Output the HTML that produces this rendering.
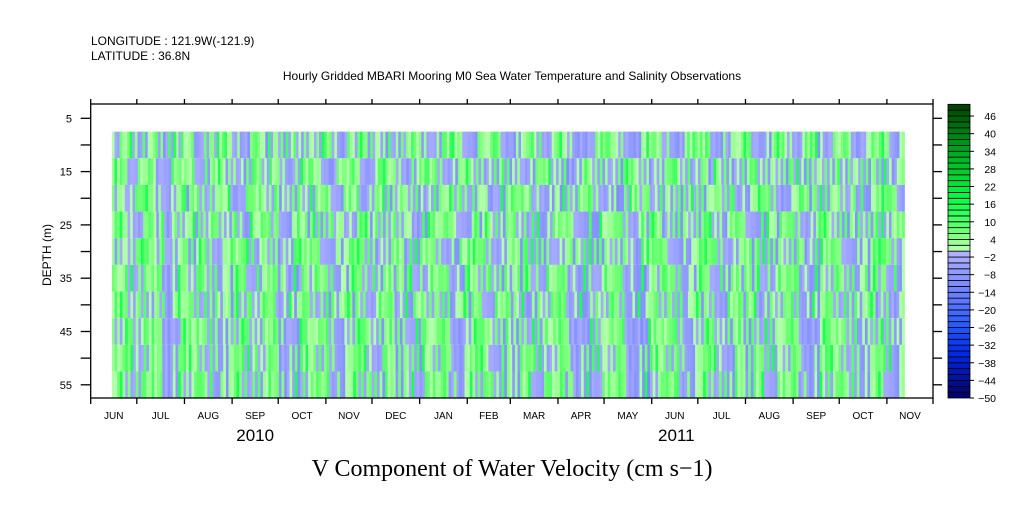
<!DOCTYPE html>
<html><head><meta charset="utf-8">
<style>
html,body{margin:0;padding:0;background:#fff;}
body{width:1009px;height:504px;overflow:hidden;font-family:"Liberation Sans",sans-serif;}
svg text{font-family:"Liberation Sans",sans-serif;fill:#000;}
</style></head>
<body>
<svg id="chart" width="1009" height="504" viewBox="0 0 1009 504" xmlns="http://www.w3.org/2000/svg">
<text x="91" y="45" font-size="12">LONGITUDE : 121.9W(-121.9)</text>
<text x="91" y="60" font-size="12">LATITUDE : 36.8N</text>
<text x="512" y="80" font-size="12" text-anchor="middle">Hourly Gridded MBARI Mooring M0 Sea Water Temperature and Salinity Observations</text>
<text transform="translate(51,255) rotate(-90)" font-size="12" text-anchor="middle">DEPTH (m)</text>
<text x="512" y="476" font-size="24" text-anchor="middle" style="font-family:'Liberation Serif',serif">V Component of Water Velocity (cm s−1)</text>
<g id="heat"></g>
<g id="axes"></g>
<g id="cbar"></g>
</svg>
<script>
// ---- data ----
const depths = [10,15,20,25,30,35,40,45,50,55];
const startDay = 13.8;   // days since 2010-06-01
const endDay = 529.5;
const monthLabels = ["JUN","JUL","AUG","SEP","OCT","NOV","DEC","JAN","FEB","MAR","APR","MAY","JUN","JUL","AUG","SEP","OCT","NOV"];
const monthStartDays = [0,30,61,92,122,153,183,214,245,273,304,334,365,395,426,457,487,518,548];
const yearLabels = ["2010","2011"];
const yearLabelDays = [107,381];
const depthTicks = [5,10,15,20,25,30,35,40,45,50,55];
const depthLabels = [5,15,25,35,45,55];
const cbarLabels = [46,40,34,28,22,16,10,4,-2,-8,-14,-20,-26,-32,-38,-44,-50];
const levelMin = -50, levelMax = 50, levelStep = 2;
// coded values: a=-17, b=-15, ... (step 2)
const rowCodesA = [
"jgkmhfnjlgeoqhjkfgmlhjpkgfhlnjegkmojhfgjlqkhgenjmlfhjkogfhjmlkhgfnpjkhgeljmnhfgkjlohgfjmkhgefhgjlnkhgfeejkmlhgfhkjmnogfehkjlmghfjkqnhgfjkleghmjnkhfgjlnkhgfejk",
"kjlghmknjhgfkmljhgnkjlfhgjmokhgjlkfhgmnjkgehjlmkhfgjnlkhgemjkolhgfjlkmhgfjnkgeghfjmlkhgfdejklhgfgjmnlkhgejklmohgfjmkhlgfejnkmhgfjklnhgefhjmklgfhjnmkgfhegjkl",
"lkjhgmnljkhfgkpljhgmkljhfgnmjkhgljkmnhgfjlkhgmnjhfkljgehmklnjhgfkjmlhgnkjfhgejmlknhgfjkeghfjlmkhgfdehjklmhgfjlnmkhgejlkmnhgfjkmlhgefjknmlhgfjlkhmgfejkmnlhgf",
"jmkhgflnjkhgmljkfhgnmkjlhgfkjmnlhgejkmlhfgnjkhglmkjhfgnlkjhgemjknlhgfkmjlhgeknjmhgffgjlmkhgfeejklmhgfjknmlhgfejkmlnhgfjkmlhgfejknlmhgfjkmlhgfejnkmlhgfjkm",
"kljhgmnkjlhgfkmnjlhgfkjmlnhgjkmlhgfnkjlmhgfkjnlmhgejkmnlhgfjkmlhgenjklmhgfjkmlnhgfeghjkmlhgfeejlkmhgfjkmnlhgefjkmlnhgfjkmnlhgfejkmnlhgfjkmlhgfejkmnlhgfj",
"mjkhglnkjmhgflkjnmhgfjklmnhgfjkmlhgenkjmlhgfjknmlhgejkmlnhgfjkmlhgfnjkmlhgejknmlhgfjkmlhgffghjklmhgfedjklnmhgfjkmlhgfejknmlhgfjkmlnhgfejkmlhgfjnkmlhgfej",
"jklhgmnjkhgfljkmnhgfjklmhgnjkmlhgfjknmlhgejkmlnhgfjkmlhgfnjkmlhgejkmnlhgfjkmlhgfejknmlhgfeghjkmlhgfeejknlmhgfjkmlhgfejkmnlhgfjkmlhgfejknmlhgfjkmlhgfejk",
"lkjmhgnjklhgfmkjnlhgfjkmlnhgfjkmlhgenjkmlhgfjkmnlhgejkmlhgfnjkmlhgfjkmnlhgejkmlhgfnjkmlhgfeghjlkmhgfdejkmlnhgfjkmlhgfejkmnlhgfjkmlhgfejnkmlhgfjkmlhgfej",
"kjmlhgnkjlhgfmjknlhgfjkmlhgnjkmlhgfejkmnlhgfjkmlhgfnjkmlhgejkmnlhgfjkmlhgfejknmlhgfjkmlhgfeghjkmlhgfeejkmnlhgfjkmlhgfejkmnlhgfjkmlhgfejnkmlhgfjkmlhgfejk",
"jmklhgnkjmhgflkjnmhgfjkmlnhgfjkmlhgenjkmlhgfjkmnlhgejkmlhgfnjkmlhgfjkmnlhgejkmlhgfnjkmlhgfeghjklmhgfedjkmlnhgfjkmlhgfejkmnlhgfjkmlhgfejnkmlhgfjkmlhgfejk"
];
const rowCodesB = [
"hmjqkgfjnlhgkojmfhglqnjhkgemljpkhfgnjlkhgomjfhkgqlnjgehkmlojfghknjqlhgfmkjolhgefkmjnhglqjkfhegmonkjlhfgkqmjhlgefnokjmhglfkjqnhfgemljkhgnoqjfhklmgehjnkql",
"qnlhgjkmfhgoljknhgfmqjlkhegnmjokhgflqjnkhgemljokhfgnqjlkhgfmojnlhgekqjmlhgfonjkhgelmqjknhgfojlmkhgeqnjlkhgfmojknhgleqjmkhgfnojlkhgemqjnlkhgfojmkhgelnqj",
"gkhjnmqlfhgjkoemnlhgkjqfhgmlnjkoehgfkjqmlnhgejkofhgmqnljkhgefjomkqhnlgfjkehqmolnjgkhfejqmknlohgfjkemqnhlgjokfhegqmnkjlhgofjekqmnlhgfjokemqnljhgkfoejmqnl",
"nqkjhglmfoejhgkqnljmhgfokeqjnlhmgfkojeqnmlhkgjfoqenmlkhgjfeoqnkmljhgfoeqjnkmlhgfoqejnmklhgfoeqjkmnlhgofqjekmnlhgfoqjkemnlhgfoqjekmnlhgfoqjkmnlehgfoqjkm",
"fhjkmqnlgohkjmfeqnlhgkojmqnflhgekjoqmnlhgfkejoqmnlhgfkjeoqnmlhgfkejoqmnlhgfkjeoqnmlhgfkejoqmnlhgfkjeoqnmlhgfkejoqmnlhgfkjeoqnmlhgfkejoqmnlhgfkjeoqnml",
"ljoqhgkmnfejqlhgokmnfjeqlhgokmnfjeqhlgokmnfjeqlhgokmnfjeqhlgokmnfjeqlhgokmnfjeqhlgokmnfjeqlhgokmnfjeqhlgokmnfjeqlhgokmnfjeqhlgokmnfjeqlhgokmnfjeqhlgo",
"oqmjkhgflnejqkmhgolnfjeqkmhgolnfjqekmhglonfjqekmhgolnfjqekmhglonfjqekmhgolnfjqekmhglonfjqekmhgolnfjqekmhglonfjqekmhgolnfjqekmhglonfjqekmhgolnfjqekmhg",
"hgqnkjmolfehgqnkjmolfehgqnkjmlofehgqnkjmolfehgqnkjmlofehgqnkjmolfehgqnkjmlofehgqnkjmolfehgqnkjmlofehgqnkjmolfehgqnkjmlofehgqnkjmolfehgqnkjmlofehgqnkj",
"mkoqjhgnlfekmoqjhgnlfekmoqjhgnlefkmoqjhgnlfekmoqjhgnlefkmoqjhgnlfekmoqjhgnlefkmoqjhgnlfekmoqjhgnlefkmoqjhgnlfekmoqjhgnlefkmoqjhgnlfekmoqjhgnlefkmoq",
"jqhgmnkolfejqhgmnkoflejqhgmnkolfejqhgmnkoflejqhgmnkolfejqhgmnkoflejqhgmnkolfejqhgmnkoflejqhgmnkolfejqhgmnkoflejqhgmnkolfejqhgmnkoflejqhgmnkolfejqhg"
];
const rowValues = rowCodesA.map((s,i) => {
  const a = Array.from(s), b = Array.from(rowCodesB[i]);
  const out = [];
  for (let k = 0; k < Math.max(a.length, b.length); k++) {
    if (k < a.length) out.push(-17 + 2*(a[k].charCodeAt(0)-97));
    if (k < b.length) out.push(-17 + 2*(b[k].charCodeAt(0)-97));
  }
  return out;
});

// ---- scales ----
const X0 = 90.7, X1 = 933, D0 = 0, D1 = 548;
const xs = d => X0 + (d - D0) * (X1 - X0) / (D1 - D0);
const ys = z => 118.3 + (z - 5) * 5.33;
const cbTop = 104.3, cbBot = 398, cbX = 948, cbW = 22;
const cs = v => cbBot - (v - levelMin) * (cbBot - cbTop) / (levelMax - levelMin);

function lerp(a,b,t){return a.map((x,i)=>Math.round(x+(b[i]-x)*t));}
function ramp(stops,t){for(let i=1;i<stops.length;i++){if(t<=stops[i][0]){const s=stops[i-1],e=stops[i];return lerp(s[1],e[1],(t-s[0])/(e[0]-s[0]));}}return stops[stops.length-1][1];}
function color(v){
  let c;
  if(v>=0){c=ramp([[0,[190,255,180]],[0.12,[120,255,120]],[0.36,[0,255,70]],[0.6,[0,190,40]],[1,[0,64,0]]],v/50);}
  else{c=ramp([[0,[180,180,255]],[0.3,[105,125,255]],[0.5,[40,90,255]],[0.7,[0,40,230]],[1,[0,0,100]]],-v/50);}
  return `rgb(${c[0]},${c[1]},${c[2]})`;
}
const NS="http://www.w3.org/2000/svg";
function mk(tag,attrs,parent){const e=document.createElementNS(NS,tag);for(const k in attrs)e.setAttribute(k,attrs[k]);parent.appendChild(e);return e;}

// ---- heatmap ----
const heat=document.getElementById('heat');
rowValues.forEach((vals,r)=>{
  const z0=depths[r]-2.5, z1=depths[r]+2.5;
  const n=vals.length, dd=(endDay-startDay)/n;
  vals.forEach((v,i)=>{
    const xa=xs(startDay+i*dd), xb=xs(startDay+(i+1)*dd);
    const el=mk('rect',{x:xa.toFixed(2),y:ys(z0).toFixed(2),width:(xb-xa+0.3).toFixed(2),height:(ys(z1)-ys(z0)).toFixed(2),fill:color(v)},heat);
    
    
  });
});

// ---- axes ----
const ax=document.getElementById('axes');
const frame=mk('rect',{x:X0,y:104,width:X1-X0,height:294,fill:'none',stroke:'#000','stroke-width':1.3},ax);


monthStartDays.forEach(d=>{
  const x=xs(d);
  mk('line',{x1:x,x2:x,y1:398,y2:404,stroke:'#000','stroke-width':1.3},ax);
  mk('line',{x1:x,x2:x,y1:104,y2:99,stroke:'#000','stroke-width':1.3},ax);
});
monthLabels.forEach((m,i)=>{
  const x=xs((monthStartDays[i]+monthStartDays[i+1])/2);
  const t=mk('text',{x:x,y:419,'font-size':10,'text-anchor':'middle'},ax);
  t.textContent=m;
  
  
});
yearLabels.forEach((y,i)=>{
  const t=mk('text',{x:xs(yearLabelDays[i]),y:441,'font-size':17,'text-anchor':'middle'},ax);
  t.textContent=y;
  
  
});
depthTicks.forEach(z=>{
  const y=ys(z);
  mk('line',{x1:X0-10,x2:X0,y1:y,y2:y,stroke:'#000','stroke-width':1.3},ax);
  mk('line',{x1:X1,x2:X1+9,y1:y,y2:y,stroke:'#000','stroke-width':1.3},ax);
});
depthLabels.forEach(z=>{
  const t=mk('text',{x:72,y:ys(z)+4,'font-size':11,'text-anchor':'end'},ax);
  t.textContent=z;
  
  
});

// ---- colorbar ----
const cb=document.getElementById('cbar');
for(let v=levelMin; v<levelMax; v+=levelStep){
  const el=mk('rect',{x:cbX,y:cs(v+levelStep),width:cbW,height:cs(v)-cs(v+levelStep),fill:color(v+levelStep/2),stroke:'#000','stroke-width':0.8},cb);
  
  
}
cbarLabels.forEach(v=>{
  const y=cs(v);
  mk('line',{x1:cbX+cbW,x2:cbX+cbW+4,y1:y,y2:y,stroke:'#000','stroke-width':1},cb);
  const t=mk('text',{x:996,y:y+4,'font-size':10.5,'text-anchor':'end'},cb);
  t.textContent=v<0?'\u2212'+(-v):v;
  
  
});
</script>
</body></html>
